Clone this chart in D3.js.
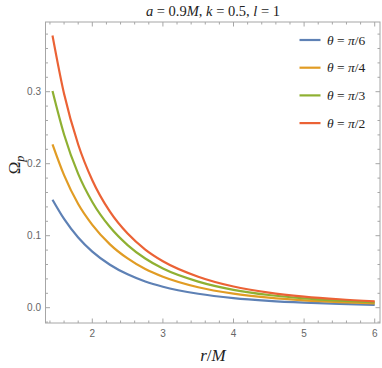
<!DOCTYPE html>
<html><head><meta charset="utf-8">
<script src="https://cdn.jsdelivr.net/npm/d3@7"></script>
<style>
html,body{margin:0;padding:0;background:#fff;}
svg{display:block;}
</style></head>
<body>
<svg id="chart" width="382" height="368"></svg>
<script>
// ---- data ----
const rValues = [1.436, 1.6, 1.8, 2.0, 2.25, 2.5, 2.75, 3.0, 3.5, 4.0, 4.5, 5.0, 5.5, 6.0];
const omegaPi6 = [0.150, 0.1233, 0.0975, 0.0779, 0.0597, 0.0463, 0.0364, 0.0291, 0.0194, 0.0133, 0.0095, 0.0070, 0.0053, 0.0040];
const omegaPi4 = [0.227, 0.1841, 0.1440, 0.1151, 0.0880, 0.0684, 0.0537, 0.0430, 0.0284, 0.0195, 0.0139, 0.0102, 0.0077, 0.0059];
const omegaPi3 = [0.301, 0.2406, 0.1859, 0.1469, 0.1120, 0.0870, 0.0683, 0.0543, 0.0362, 0.0248, 0.0176, 0.0130, 0.0098, 0.0075];
const omegaPi2 = [0.378, 0.2970, 0.2267, 0.1770, 0.1333, 0.1029, 0.0808, 0.0646, 0.0431, 0.0295, 0.0210, 0.0155, 0.0117, 0.0089];
const seriesLabels = ["π/6", "π/4", "π/3", "π/2"];
const seriesColors = ["#5E81B5", "#E19C24", "#8FB032", "#EB6235"];
const xTicks = [2, 3, 4, 5, 6];
const yTicks = [0.0, 0.1, 0.2, 0.3];

const series = [omegaPi6, omegaPi4, omegaPi3, omegaPi2];

const svg = d3.select("#chart");
const L = 45.5, R = 380, T = 22, B = 323;

const x = d3.scaleLinear().domain([1.337, 6.075]).range([L, R]);
const y = d3.scaleLinear().domain([-0.02125, 0.3968]).range([B, T]);

const frameColor = "#a6a6a6";
const tickLabelColor = "#666";

// frame
svg.append("rect").attr("x", L).attr("y", T).attr("width", R - L).attr("height", B - T)
  .attr("fill", "none").attr("stroke", frameColor).attr("stroke-width", 1);

// ticks helper
const xMinor = d3.range(1.4, 6.01, 0.2).map(v => +v.toFixed(2)).filter(v => !xTicks.includes(v));
const yMinor = d3.range(-0.02, 0.39, 0.02).map(v => +v.toFixed(3)).filter(v => !yTicks.some(t => Math.abs(t - v) < 1e-6));

const tg = svg.append("g").attr("stroke", frameColor).attr("stroke-width", 1);
function xTick(v, len) {
  tg.append("line").attr("x1", x(v)).attr("x2", x(v)).attr("y1", B).attr("y2", B - len);
  tg.append("line").attr("x1", x(v)).attr("x2", x(v)).attr("y1", T).attr("y2", T + len);
}
function yTick(v, len) {
  tg.append("line").attr("y1", y(v)).attr("y2", y(v)).attr("x1", L).attr("x2", L + len);
  tg.append("line").attr("y1", y(v)).attr("y2", y(v)).attr("x1", R).attr("x2", R - len);
}
xTicks.forEach(v => xTick(v, 4.5));
xMinor.forEach(v => xTick(v, 2.5));
yTicks.forEach(v => yTick(v, 4.5));
yMinor.forEach(v => yTick(v, 2.5));

// tick labels
const tickFont = "'Liberation Sans', Arial, sans-serif";
svg.append("g").selectAll("text").data(xTicks).join("text")
  .attr("x", d => x(d)).attr("y", 337).attr("text-anchor", "middle")
  .attr("font-family", tickFont).attr("font-size", 10).attr("fill", tickLabelColor)
  .text(d => d3.format("d")(d));
svg.append("g").selectAll("text").data(yTicks).join("text")
  .attr("x", 41).attr("y", d => y(d) + 3.5).attr("text-anchor", "end")
  .attr("font-family", tickFont).attr("font-size", 10).attr("fill", tickLabelColor)
  .text(d => d3.format(".1f")(d));

// curves
const line = d3.line().x((d, i) => x(rValues[i])).y(d => y(d)).curve(d3.curveMonotoneX);
const plot = svg.append("g");
series.forEach((s, k) => {
  plot.append("path").datum(s).attr("d", line)
    .attr("fill", "none").attr("stroke", seriesColors[k]).attr("stroke-width", 2.2)
    .attr("stroke-linecap", "butt");
});

// legend
const serif = "'Liberation Serif', 'Times New Roman', serif";
const leg = svg.append("g");
seriesLabels.forEach((lab, k) => {
  const yy = 40 + k * 27.7;
  leg.append("line").attr("x1", 299.5).attr("x2", 320.5).attr("y1", yy).attr("y2", yy)
    .attr("stroke", seriesColors[k]).attr("stroke-width", 2.2);
  const t = leg.append("text").attr("x", 327).attr("y", yy + 4.5)
    .attr("font-family", serif).attr("font-size", 13.5).attr("fill", "#222");
  t.append("tspan").attr("font-style", "italic").text("θ");
  t.append("tspan").text(" = ");
  t.append("tspan").attr("font-style", "italic").text(lab.split("/")[0]);
  t.append("tspan").text("/" + lab.split("/")[1]);
});

// title
const title = svg.append("text").attr("x", 213).attr("y", 16).attr("text-anchor", "middle")
  .attr("font-family", serif).attr("font-size", 14.5).attr("fill", "#222");
[["a", true], [" = 0.9", false], ["M", true], [", ", false], ["k", true], [" = 0.5, ", false], ["l", true], [" = 1", false]]
  .forEach(([s, it]) => title.append("tspan").attr("font-style", it ? "italic" : "normal").text(s));

// x axis label
const xl = svg.append("text").attr("x", 213).attr("y", 361).attr("text-anchor", "middle")
  .attr("font-family", serif).attr("font-size", 17).attr("fill", "#222");
xl.append("tspan").attr("font-style", "italic").text("r");
xl.append("tspan").text("/");
xl.append("tspan").attr("font-style", "italic").text("M");

// y axis label
const yl = svg.append("text").attr("transform", "translate(20,165) rotate(-90)")
  .attr("text-anchor", "middle").attr("font-family", serif).attr("font-size", 17).attr("fill", "#222");
yl.append("tspan").text("Ω");
yl.append("tspan").attr("font-style", "italic").attr("font-size", 12).attr("dy", 4).text("p");
</script>
</body></html>
